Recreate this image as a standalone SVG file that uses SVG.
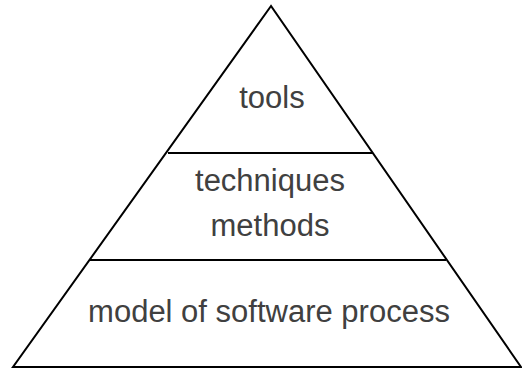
<svg xmlns="http://www.w3.org/2000/svg" width="522" height="370" viewBox="0 0 522 370">
  <style>
    .edge { fill: none; stroke: #000; stroke-width: 2; stroke-linejoin: miter; }
    .tier { stroke: #000; stroke-width: 2; }
    .label { font-family: "Liberation Sans", Arial, sans-serif; font-size: 31px; fill: #404040; text-anchor: middle; }
  </style>
  <rect width="522" height="370" fill="#fff"/>
  <g id="pyramid">
    <polygon class="edge" points="271,6 13,367 521,367"/>
  </g>
  <g id="connectors">
    <line class="tier" x1="168" y1="153" x2="373" y2="153"/>
    <line class="tier" x1="89" y1="260" x2="446" y2="260"/>
  </g>
  <g id="tools">
    <text class="label" x="272" y="108">tools</text>
  </g>
  <g id="techniques">
    <text class="label" x="270" y="191">techniques</text>
    <text class="label" x="270" y="236">methods</text>
  </g>
  <g id="model">
    <text class="label" x="269" y="322">model of software process</text>
  </g>
</svg>
